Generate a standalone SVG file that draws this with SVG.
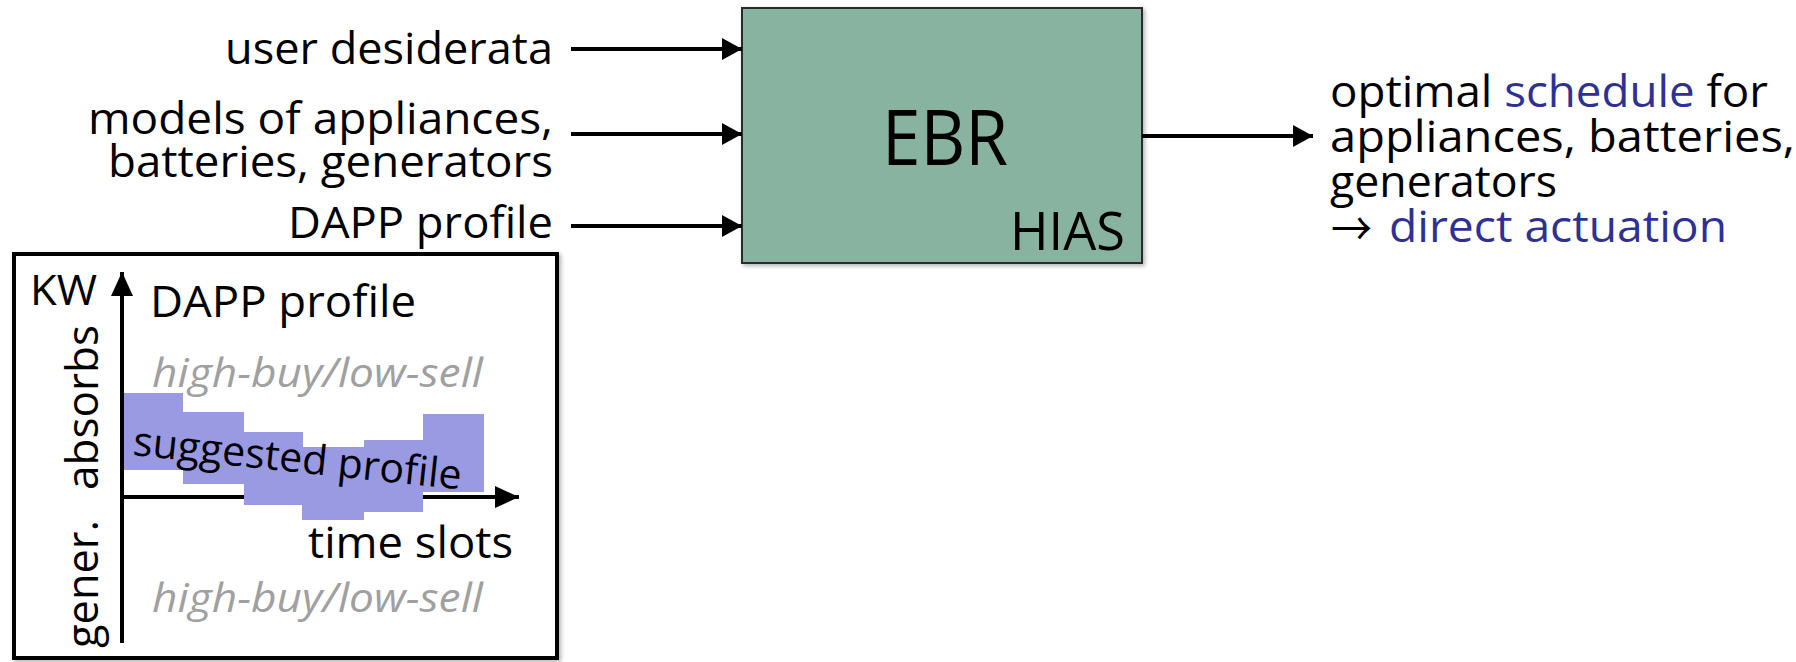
<svg xmlns="http://www.w3.org/2000/svg" width="1796" height="662" viewBox="0 0 1796 662">
<style>
text{font-family:"Open Sans","Liberation Sans",sans-serif;fill:#000}
.lbl{font-size:44px}
.blue{fill:#2E3192}
.gray{fill:#A0A0A0;font-style:italic;font-size:41px}
.ln{stroke:#000;stroke-width:4;fill:none}
.bar{fill:#9A9AE3}
</style>
<defs>
<marker id="ah" viewBox="0 0 20 22" refX="20" refY="11" markerWidth="20" markerHeight="22" markerUnits="userSpaceOnUse" orient="auto">
<path d="M0,0 L20,11 L0,22 Z" fill="#000"/>
</marker>
<marker id="ax" viewBox="0 0 24 22" refX="24" refY="11" markerWidth="24" markerHeight="22" markerUnits="userSpaceOnUse" orient="auto">
<path d="M0,0 L24,11 L0,22 Z" fill="#000"/>
</marker>
<filter id="sh" x="-5%" y="-5%" width="110%" height="110%">
<feDropShadow dx="2" dy="2" stdDeviation="2" flood-color="#000" flood-opacity="0.3"/>
</filter>
</defs>

<g id="input-labels">
<text class="lbl" x="553" y="64" text-anchor="end" textLength="328" lengthAdjust="spacingAndGlyphs">user desiderata</text>
<text class="lbl" x="553" y="134" text-anchor="end" textLength="465" lengthAdjust="spacingAndGlyphs">models of appliances,</text>
<text class="lbl" x="553" y="177" text-anchor="end" textLength="445" lengthAdjust="spacingAndGlyphs">batteries, generators</text>
<text class="lbl" x="553" y="238" text-anchor="end" textLength="265" lengthAdjust="spacingAndGlyphs">DAPP profile</text>
</g>

<g id="ebr">
<rect x="742" y="8" width="400" height="255" fill="#87B3A0" stroke="#2a2a2a" stroke-width="2" filter="url(#sh)"/>
<text x="882" y="165" font-size="77" textLength="126" lengthAdjust="spacingAndGlyphs">EBR</text>
<text x="1010" y="250" font-size="53" textLength="115" lengthAdjust="spacingAndGlyphs">HIAS</text>
</g>

<g id="output-label">
<text class="lbl" x="1330" y="107" textLength="438" lengthAdjust="spacingAndGlyphs">optimal <tspan class="blue">schedule</tspan> for</text>
<text class="lbl" x="1330" y="152" textLength="465" lengthAdjust="spacingAndGlyphs">appliances, batteries,</text>
<text class="lbl" x="1330" y="197" textLength="227" lengthAdjust="spacingAndGlyphs">generators</text>
<text x="1331" y="245" font-size="46" textLength="41" lengthAdjust="spacingAndGlyphs" style="font-family:'Noto Sans CJK JP','DejaVu Sans',sans-serif">→</text>
<text class="lbl blue" x="1389" y="242" textLength="338" lengthAdjust="spacingAndGlyphs">direct actuation</text>
</g>

<g id="connectors">
<line class="ln" x1="571" y1="49" x2="742" y2="49" marker-end="url(#ah)"/>
<line class="ln" x1="571" y1="134" x2="742" y2="134" marker-end="url(#ah)"/>
<line class="ln" x1="571" y1="226" x2="742" y2="226" marker-end="url(#ah)"/>
<line class="ln" x1="1142" y1="136" x2="1313" y2="136" marker-end="url(#ah)"/>
</g>

<g id="dapp-chart">
<rect x="14" y="254" width="543" height="404" fill="#fff" stroke="#000" stroke-width="4" filter="url(#sh)"/>
<line class="ln" x1="122" y1="643" x2="122" y2="272" marker-end="url(#ax)"/>
<line class="ln" x1="120" y1="497" x2="519" y2="497" marker-end="url(#ax)"/>
<rect class="bar" x="124" y="393" width="59" height="77"/>
<rect class="bar" x="183" y="412" width="61" height="72"/>
<rect class="bar" x="244" y="432" width="59" height="73"/>
<rect class="bar" x="302" y="447" width="62" height="73"/>
<rect class="bar" x="364" y="440" width="59" height="72"/>
<rect class="bar" x="423" y="414" width="61" height="78"/>
<text x="30" y="305" font-size="42" textLength="67" lengthAdjust="spacingAndGlyphs">KW</text>
<text x="150" y="317" font-size="43" textLength="266" lengthAdjust="spacingAndGlyphs">DAPP profile</text>
<text class="gray" x="152" y="387" textLength="331" lengthAdjust="spacingAndGlyphs">high-buy/low-sell</text>
<text x="132" y="455" font-size="41" transform="rotate(6 132 455)" textLength="330" lengthAdjust="spacingAndGlyphs">suggested profile</text>
<text x="308" y="558" font-size="44" textLength="205" lengthAdjust="spacingAndGlyphs">time slots</text>
<text class="gray" x="152" y="612" textLength="331" lengthAdjust="spacingAndGlyphs">high-buy/low-sell</text>
<text x="98" y="490" font-size="44" transform="rotate(-90 98 490)" textLength="165" lengthAdjust="spacingAndGlyphs">absorbs</text>
<text x="98" y="648" font-size="44" transform="rotate(-90 98 648)" textLength="128" lengthAdjust="spacingAndGlyphs">gener.</text>
</g>
</svg>
